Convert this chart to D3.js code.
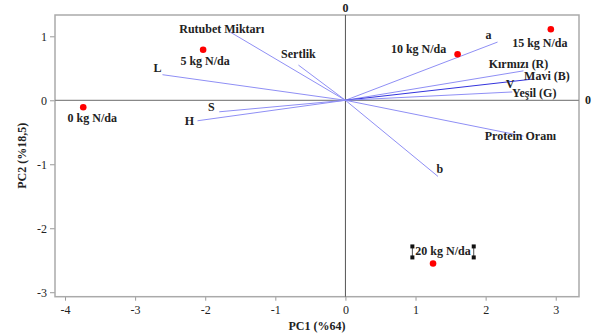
<!DOCTYPE html>
<html><head><meta charset="utf-8">
<script src="https://cdn.jsdelivr.net/npm/d3@7"></script>
<style>
html,body{margin:0;padding:0;background:#fff;}
</style></head>
<body><svg id="c" width="596" height="336"></svg>
<script>
// ---- data ----
const obsNames = ["0 kg N/da","5 kg N/da","10 kg N/da","15 kg N/da","20 kg N/da"];
const obsPC1 = [-3.74,-2.03,1.60,2.93,1.25];
const obsPC2 = [-0.11,0.79,0.72,1.11,-2.55];
const varNames = ["Rutubet Miktarı","Sertlik","L","S","H","a","Kırmızı (R)","Mavi (B)","Yeşil (G)","Protein Oranı","b"];
const varPC1 = [-1.65,-0.67,-2.61,-1.80,-2.11,2.17,2.54,2.66,2.38,2.54,1.32];
const varPC2 = [1.07,0.55,0.40,-0.18,-0.32,0.91,0.46,0.33,0.13,-0.56,-1.19];
const xTicks = [-4,-3,-2,-1,0,1,2,3];
const yTicks = [-3,-2,-1,0,1];
const xTitle = "PC1 (%64)";
const yTitle = "PC2 (%18,5)";

// ---- layout (label offsets in px) ----
const varLabelOff = [[-8,-3],[0,-11],[-5,-7],[-8,-5],[-8,0],[-9,-7],[-5,-6.5],[15,-3],[22,1],[-3,0],[2,-7]];
const obsLabelOff = [[9,11],[2,11],[-39,-5],[-11,14],[10,-12]];

const FONT = "'Liberation Serif', 'Times New Roman', Times, serif";
const svg = d3.select("#c").attr("font-family",FONT);
const L=55,R=579,T=15,B=296.7;
const x = d3.scaleLinear().domain([-4.143,3.332]).range([L,R]);
const y = d3.scaleLinear().domain([-3.07,1.333]).range([B,T]);

function txt(g){ return g.style("font-family",FONT).style("font-size","12px").style("font-weight","bold").attr("fill","#222"); }

// axes
const ax = svg.append("g").attr("transform",`translate(0,${B})`)
  .call(d3.axisBottom(x).tickValues(xTicks).tickSize(4).tickSizeOuter(0));
const ay = svg.append("g").attr("transform",`translate(${L},0)`)
  .call(d3.axisLeft(y).tickValues(yTicks).tickSize(5).tickSizeOuter(0));
[ax,ay].forEach(g=>{
  g.attr("font-family",null);
  g.select(".domain").remove();
  g.selectAll(".tick line").attr("stroke","#999").attr("stroke-width",1);
  g.selectAll(".tick text").attr("fill","#222").style("font-family",FONT).style("font-size","12px")
    .text(d=>d<0?"-"+Math.abs(d):String(d));
});
ax.selectAll(".tick text").attr("dy","0.4em").attr("y",13);
ay.selectAll(".tick text").attr("x",-8);

// frame
svg.append("rect").attr("x",L).attr("y",T).attr("width",R-L).attr("height",B-T)
  .attr("fill","none").attr("stroke","#aaa").attr("stroke-width",1.5);
// zero lines
svg.append("line").attr("x1",L).attr("x2",R).attr("y1",y(0)).attr("y2",y(0)).attr("stroke","#888").attr("stroke-width",1.2);
svg.append("line").attr("x1",x(0)).attr("x2",x(0)).attr("y1",T).attr("y2",B).attr("stroke","#555").attr("stroke-width",1);
txt(svg.append("text")).attr("x",x(0)).attr("y",T-7.5).attr("text-anchor","middle").attr("dominant-baseline","central").text("0");
txt(svg.append("text")).attr("x",588).attr("y",y(0)).attr("text-anchor","middle").attr("dominant-baseline","central").text("0");

// vectors
const vars = varNames.map((n,i)=>({n,x:varPC1[i],y:varPC2[i],o:varLabelOff[i]}));
svg.append("g").selectAll("line").data(vars).join("line")
  .attr("x1",x(0)).attr("y1",y(0)).attr("x2",d=>x(d.x)).attr("y2",d=>y(d.y))
  .attr("stroke",d=>d.n==="Mavi (B)"?"#3333dd":"#8f8ff5").attr("stroke-width",1);
txt(svg.append("g").selectAll("text").data(vars).join("text"))
  .attr("x",d=>x(d.x)+d.o[0]).attr("y",d=>y(d.y)+d.o[1])
  .attr("text-anchor","middle").attr("dominant-baseline","central").text(d=>d.n);
// extra V mark near the colour vectors
txt(svg.append("text")).attr("x",x(2.35)).attr("y",y(0.25)).attr("text-anchor","middle").attr("dominant-baseline","central").text("V");

// observations
const obs = obsNames.map((n,i)=>({n,x:obsPC1[i],y:obsPC2[i],o:obsLabelOff[i]}));
svg.append("g").selectAll("circle").data(obs).join("circle")
  .attr("cx",d=>x(d.x)).attr("cy",d=>y(d.y)).attr("r",3.3).attr("fill","#ff0000");
const ol = txt(svg.append("g").selectAll("text").data(obs).join("text"))
  .attr("x",d=>x(d.x)+d.o[0]).attr("y",d=>y(d.y)+d.o[1])
  .attr("text-anchor","middle").attr("dominant-baseline","central").text(d=>d.n);

// selection handles around last label
const lastNode = ol.filter((d,i)=>i===obs.length-1).node();
const bb = lastNode.getBBox();
const hx=[bb.x-3,bb.x+bb.width+3], hy=[bb.y+2,bb.y+bb.height-1];
hx.forEach(px=>{
  svg.append("line").attr("x1",px).attr("x2",px).attr("y1",hy[0]).attr("y2",hy[1]).attr("stroke","#222").attr("stroke-width",0.8);
  hy.forEach(py=>svg.append("rect").attr("x",px-2).attr("y",py-2).attr("width",4).attr("height",4).attr("fill","#111"));
});

// axis titles
txt(svg.append("text")).attr("x",(L+R)/2).attr("y",326).attr("text-anchor","middle").attr("dominant-baseline","central").text(xTitle);
txt(svg.append("text")).attr("transform",`translate(22,${(T+B)/2}) rotate(-90)`).attr("text-anchor","middle").attr("dominant-baseline","central").text(yTitle);
</script></body></html>
